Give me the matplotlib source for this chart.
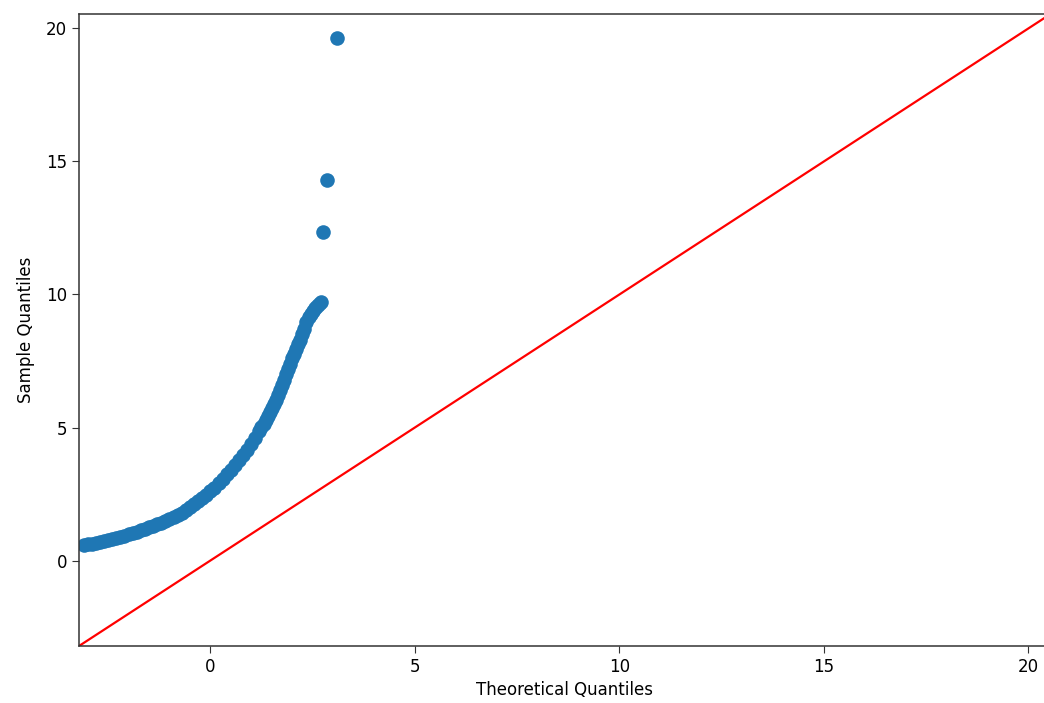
import matplotlib
matplotlib.use("Agg")
import matplotlib.pyplot as plt

# theoretical vs sample quantiles
theoretical = [
    -3.1, -3.0, -2.9, -2.8, -2.7, -2.6, -2.5, -2.4, -2.3, -2.2,
    -2.1, -2.0, -1.9, -1.8, -1.7, -1.6, -1.5, -1.4, -1.3, -1.2,
    -1.1, -1.0, -0.9, -0.8, -0.7, -0.6, -0.5, -0.4, -0.3, -0.2,
    -0.1, 0.0, 0.1, 0.2, 0.3, 0.4, 0.5, 0.6, 0.7, 0.8,
    0.9, 1.0, 1.1, 1.2, 1.25, 1.3, 1.35, 1.4, 1.45, 1.5,
    1.55, 1.6, 1.65, 1.7, 1.75, 1.8, 1.85, 1.9, 1.95, 2.0,
    2.05, 2.1, 2.15, 2.2, 2.25, 2.3, 2.35, 2.4, 2.45, 2.5,
    2.55, 2.6, 2.65, 2.7, 2.76, 2.86, 3.10,
]
sample = [
    0.58, 0.61, 0.64, 0.67, 0.70, 0.73, 0.77, 0.81, 0.85, 0.89,
    0.94, 0.99, 1.03, 1.08, 1.13, 1.19, 1.25, 1.31, 1.37, 1.43,
    1.50, 1.57, 1.64, 1.72, 1.80, 1.90, 2.00, 2.11, 2.22, 2.35,
    2.47, 2.60, 2.74, 2.90, 3.07, 3.24, 3.41, 3.60, 3.79, 3.98,
    4.17, 4.38, 4.62, 4.88, 5.02, 5.15, 5.29, 5.43, 5.57, 5.72,
    5.88, 6.05, 6.22, 6.41, 6.60, 6.80, 7.00, 7.20, 7.40, 7.60,
    7.78, 7.95, 8.12, 8.30, 8.50, 8.70, 8.95, 9.15, 9.28, 9.38,
    9.48, 9.56, 9.64, 9.70, 12.35, 14.30, 19.62,
]
# axis limits shared by both axes (45 degree reference line)
lims = [-3.21, 20.54]
ticks = [0, 5, 10, 15, 20]

fig = plt.figure(figsize=(10.44, 7.03), dpi=100)
# right spine sits just outside the canvas, as in the reference
ax = fig.add_axes([0.0757, 0.0811, 0.9306, 0.899])

ax.plot(theoretical, sample, "o", color="#1f77b4", ms=10.5, mew=0)
ax.plot(lims, lims, color="red", lw=1.6)

ax.set_xlim(lims)
ax.set_ylim(lims)
ax.set_xticks(ticks)
ax.set_yticks(ticks)
ax.tick_params(labelsize=12, length=5, color="#333333")
for s in ax.spines.values():
    s.set_linewidth(1.1)
    s.set_color("#333333")

ax.set_xlabel("Theoretical Quantiles", fontsize=12, labelpad=4)
ax.set_ylabel("Sample Quantiles", fontsize=12, labelpad=8)

fig.savefig("out.png", dpi=100)
